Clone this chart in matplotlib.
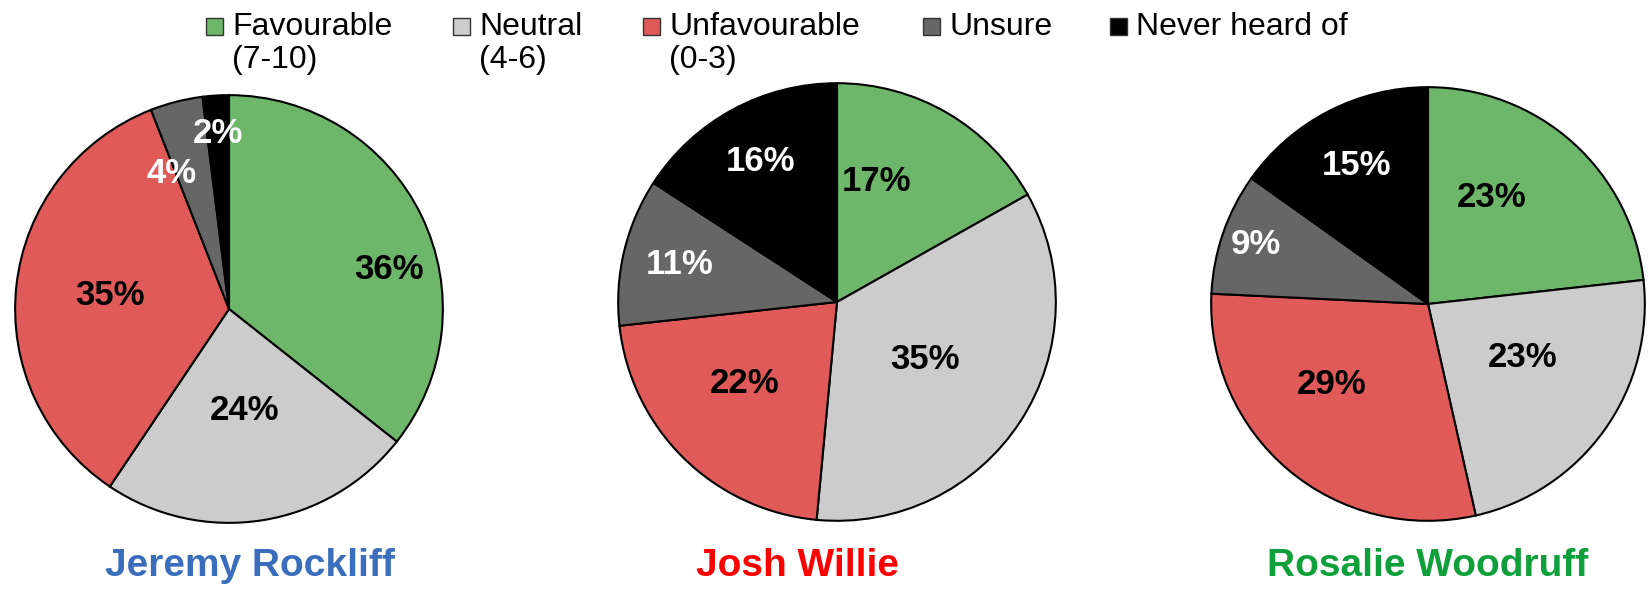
import numpy as np
import matplotlib
matplotlib.use("Agg")
import matplotlib.pyplot as plt
from matplotlib.patches import Rectangle

plt.rcParams['font.family'] = ['Liberation Sans', 'DejaVu Sans']

# DATA------------------------------------------------------------------------------------------------------------------
categories = ["Favourable\n(7-10)", "Neutral\n(4-6)", "Unfavourable\n(0-3)", "Unsure", "Never heard of"]
candidates = ["Jeremy Rockliff", "Josh Willie", "Rosalie Woodruff"]
jeremy = [36, 24, 35, 4, 2]
josh = [17, 35, 22, 11, 16]
rosalie = [23, 23, 29, 9, 15]

# STYLE-----------------------------------------------------------------------------------------------------------------
colors = ["#6db66a", "#cccccc", "#e05a5a", "#666666", "#000000"]
text_colors = ["black", "black", "black", "white", "white"]
title_colors = ["#3a6ebd", "#ff0000", "#0fa03c"]

W, H = 1652, 591
# pie centre x, centre y (pixels from top), radius
pie_boxes = [(229, 309, 216), (837, 302, 221), (1428, 304, 219)]
title_x = [250, 797, 1428]
title_y = 566
# how far out the labels sit, and how far they're nudged round (deg), per slice
label_r = [
    [0.77, 0.48, 0.56, 0.69, 0.82],
    [0.58, 0.48, 0.565, 0.74, 0.73],
    [0.57, 0.50, 0.58, 0.84, 0.72],
]
label_turn = [
    [-12, 0, 0, 8.7, 0],
    [12, 0, -4, 0, 0],
    [11, 5.7, -10, 0, 0],
]
legend_x = [206, 453, 643, 923, 1110]


def px(x, y):
    # pixel (from top-left) to figure fraction
    return x / W, 1 - y / H


fig = plt.figure(figsize=(W / 100, H / 100), dpi=100)

for i, vals in enumerate([jeremy, josh, rosalie]):
    cx, cy, r = pie_boxes[i]
    ax = fig.add_axes([(cx - r) / W, (H - cy - r) / H, 2 * r / W, 2 * r / H])
    wedges, _ = ax.pie(vals, colors=colors, startangle=90, counterclock=False,
                       wedgeprops=dict(edgecolor="black", linewidth=1.5))
    ax.set_xlim(-1.01, 1.01)
    ax.set_ylim(-1.01, 1.01)
    ax.set_aspect("equal")
    for j, w in enumerate(wedges):
        ang = np.deg2rad((w.theta1 + w.theta2) / 2 + label_turn[i][j])
        d = label_r[i][j]
        ax.text(d * np.cos(ang), d * np.sin(ang), "%d%%" % vals[j], ha="center", va="center",
                fontsize=25, fontweight="bold", color=text_colors[j])
    fig.text(*px(title_x[i], title_y), candidates[i], ha="center", va="center",
             fontsize=28, fontweight="bold", color=title_colors[i])

# legend drawn by hand so the square sits on the first line
for j, cat in enumerate(categories):
    x0 = legend_x[j]
    fig.add_artist(Rectangle(px(x0, 35), 17 / W, 17 / H, transform=fig.transFigure,
                             facecolor=colors[j], edgecolor="#333333", linewidth=1))
    for k, line in enumerate(cat.split("\n")):
        fig.text(*px(x0 + 26, 35 + 33 * k), line, ha="left", va="baseline", fontsize=23, color="black")

fig.savefig("out.png", dpi=100)
